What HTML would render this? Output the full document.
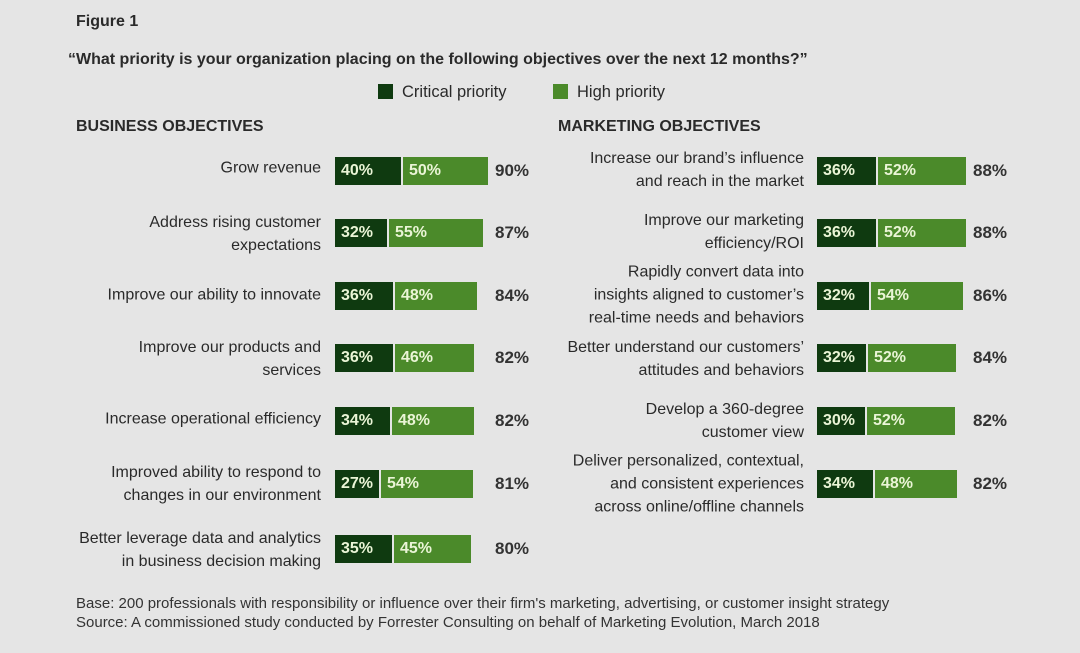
<!DOCTYPE html>
<html><head><meta charset="utf-8"><style>
body{margin:0;width:1080px;height:653px;background:#e5e5e5;font-family:"Liberation Sans",sans-serif;color:#2a2a2a;position:relative;overflow:hidden}
.a{position:absolute;white-space:nowrap}
.lbl{position:absolute;text-align:right;font-size:16px;line-height:23px;transform:translateY(-50%)}
.l{right:759px}.r{right:276px}
.bar{position:absolute;height:28px;transform:translateY(-50%);display:flex}
.d,.g{height:28px;color:#eaf5d6;font-weight:bold;font-size:16px;line-height:28px;padding-left:6px;box-sizing:border-box}
.d{background:#0f3a10}
.g{background:#4b8a2a;margin-left:2px}
.t{position:absolute;font-size:17px;font-weight:bold;transform:translateY(-50%);color:#333}
</style></head><body>
<div class="a" style="left:76px;top:13px;font-size:16px;font-weight:bold">Figure 1</div>
<div class="a" style="left:68px;top:51px;font-size:16px;font-weight:bold">“What priority is your organization placing on the following objectives over the next 12 months?”</div>
<div class="a" style="left:378px;top:84px;width:15px;height:15px;background:#0f3a10"></div>
<div class="a" style="left:402px;top:83px;font-size:16.5px">Critical priority</div>
<div class="a" style="left:553px;top:84px;width:15px;height:15px;background:#4b8a2a"></div>
<div class="a" style="left:577px;top:83px;font-size:16.5px">High priority</div>
<div class="a" style="left:76px;top:118px;font-size:16px;font-weight:bold">BUSINESS OBJECTIVES</div>
<div class="a" style="left:558px;top:118px;font-size:16px;font-weight:bold">MARKETING OBJECTIVES</div>

<div class="lbl l" style="top:168px">Grow revenue</div>
<div class="bar" style="left:335px;top:171px"><div class="d" style="width:66px">40%</div><div class="g" style="width:85px">50%</div></div>
<div class="t" style="left:495px;top:171px">90%</div>

<div class="lbl l" style="top:234px">Address rising customer<br>expectations</div>
<div class="bar" style="left:335px;top:233px"><div class="d" style="width:52px">32%</div><div class="g" style="width:94px">55%</div></div>
<div class="t" style="left:495px;top:233px">87%</div>

<div class="lbl l" style="top:295px">Improve our ability to innovate</div>
<div class="bar" style="left:335px;top:296px"><div class="d" style="width:58px">36%</div><div class="g" style="width:82px">48%</div></div>
<div class="t" style="left:495px;top:296px">84%</div>

<div class="lbl l" style="top:359px">Improve our products and<br>services</div>
<div class="bar" style="left:335px;top:358px"><div class="d" style="width:58px">36%</div><div class="g" style="width:79px">46%</div></div>
<div class="t" style="left:495px;top:358px">82%</div>

<div class="lbl l" style="top:419px">Increase operational efficiency</div>
<div class="bar" style="left:335px;top:421px"><div class="d" style="width:55px">34%</div><div class="g" style="width:82px">48%</div></div>
<div class="t" style="left:495px;top:421px">82%</div>

<div class="lbl l" style="top:484px">Improved ability to respond to<br>changes in our environment</div>
<div class="bar" style="left:335px;top:484px"><div class="d" style="width:44px">27%</div><div class="g" style="width:92px">54%</div></div>
<div class="t" style="left:495px;top:484px">81%</div>

<div class="lbl l" style="top:550px">Better leverage data and analytics<br>in business decision making</div>
<div class="bar" style="left:335px;top:549px"><div class="d" style="width:57px">35%</div><div class="g" style="width:77px">45%</div></div>
<div class="t" style="left:495px;top:549px">80%</div>

<div class="lbl r" style="top:170px">Increase our brand’s influence<br>and reach in the market</div>
<div class="bar" style="left:817px;top:171px"><div class="d" style="width:59px">36%</div><div class="g" style="width:88px">52%</div></div>
<div class="t" style="left:973px;top:171px">88%</div>

<div class="lbl r" style="top:232px">Improve our marketing<br>efficiency/ROI</div>
<div class="bar" style="left:817px;top:233px"><div class="d" style="width:59px">36%</div><div class="g" style="width:88px">52%</div></div>
<div class="t" style="left:973px;top:233px">88%</div>

<div class="lbl r" style="top:295px">Rapidly convert data into<br>insights aligned to customer’s<br>real-time needs and behaviors</div>
<div class="bar" style="left:817px;top:296px"><div class="d" style="width:52px">32%</div><div class="g" style="width:92px">54%</div></div>
<div class="t" style="left:973px;top:296px">86%</div>

<div class="lbl r" style="top:359px">Better understand our customers’<br>attitudes and behaviors</div>
<div class="bar" style="left:817px;top:358px"><div class="d" style="width:49px">32%</div><div class="g" style="width:88px">52%</div></div>
<div class="t" style="left:973px;top:358px">84%</div>

<div class="lbl r" style="top:421px">Develop a 360-degree<br>customer view</div>
<div class="bar" style="left:817px;top:421px"><div class="d" style="width:48px">30%</div><div class="g" style="width:88px">52%</div></div>
<div class="t" style="left:973px;top:421px">82%</div>

<div class="lbl r" style="top:484px">Deliver personalized, contextual,<br>and consistent experiences<br>across online/offline channels</div>
<div class="bar" style="left:817px;top:484px"><div class="d" style="width:56px">34%</div><div class="g" style="width:82px">48%</div></div>
<div class="t" style="left:973px;top:484px">82%</div>

<div class="a" style="left:76px;top:594px;font-size:15px;line-height:19px;color:#333">Base: 200 professionals with responsibility or influence over their firm's marketing, advertising, or customer insight strategy<br>Source: A commissioned study conducted by Forrester Consulting on behalf of Marketing Evolution, March 2018</div>
</body></html>
